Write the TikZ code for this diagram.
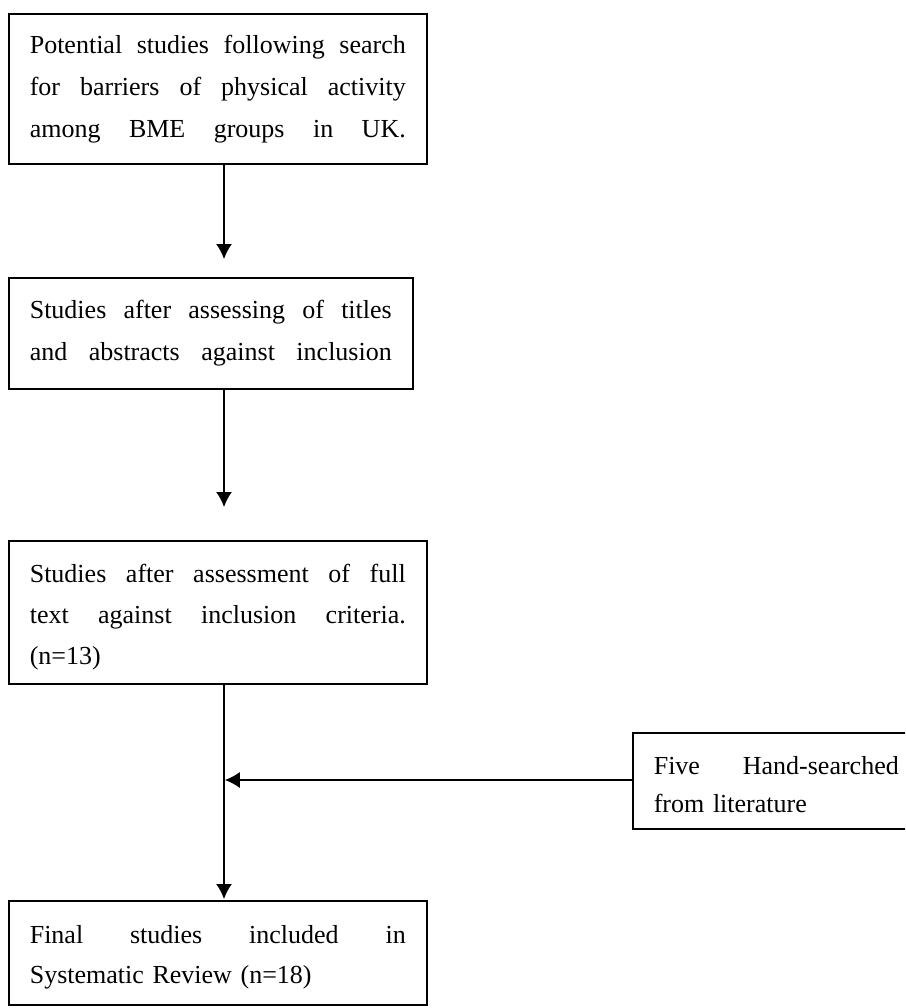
\documentclass[tikz,border=0pt]{standalone}
\usepackage{fontspec}
\setmainfont{Liberation Serif}
\usetikzlibrary{arrows.meta}
\newcommand{\jl}[2]{\leavevmode\hbox to #1{#2}}
\newcommand{\gap}{\hspace{0pt plus 1fill}}
\begin{document}
\begin{tikzpicture}[x=1pt,y=-1pt,
  flowbox/.style={draw, line width=1.6pt, anchor=north west, inner xsep=21pt, inner ysep=0pt,
    align=left, font=\fontsize{26}{42}\selectfont},
  arr/.style={line width=1.6pt, -{Latex[length=15pt,width=16pt]}}]
\useasboundingbox (0,0) rectangle (905,1008);
\clip (0,0) rectangle (905,1008);
\fill[white] (0,0) rectangle (905,1008);
\coordinate (sx) at (224,0);
\node[flowbox, text width=376pt, minimum height=150pt] (b1) at (8,13)
  {\jl{376pt}{Potential\gap studies\gap following\gap search}\\
   \jl{376pt}{for\gap barriers\gap of\gap physical\gap activity}\\
   \jl{376pt}{among\gap BME\gap groups\gap in\gap UK.}};
\node[flowbox, text width=362pt, minimum height=111pt] (b2) at (8,277)
  {\jl{362pt}{Studies\gap after\gap assessing\gap of\gap titles}\\
   \jl{362pt}{and\gap abstracts\gap against\gap inclusion}};
\node[flowbox, text width=376pt, minimum height=143pt, font=\fontsize{26}{41}\selectfont] (b3) at (8,540)
  {\jl{376pt}{\rule{0pt}{28pt}Studies\gap after\gap assessment\gap of\gap full}\\
   \jl{376pt}{text\gap against\gap inclusion\gap criteria.}\\ (n=13)};
\node[flowbox, text width=376pt, minimum height=104pt, font=\fontsize{26}{40}\selectfont] (b4) at (8,900)
  {\jl{376pt}{\rule{0pt}{26pt}Final\gap studies\gap included\gap in}\\ Systematic Review (n=18)};
\node[flowbox, text width=245pt, minimum height=96pt, font=\fontsize{26}{38}\selectfont] (side) at (632,732)
  {\jl{245pt}{\rule{0pt}{26pt}Five\gap Hand-searched}\\ from literature};
\coordinate (m) at (224,780);
\draw[arr, shorten >=18pt] (b1.south -| sx) -- (b2.north -| sx);
\draw[arr, shorten >=33pt] (b2.south -| sx) -- (b3.north -| sx);
\draw[arr, shorten >=1pt] (b3.south -| sx) -- (b4.north -| sx);
\draw[arr, shorten >=0.8pt] (side.west |- m) -- (m);
\end{tikzpicture}
\end{document}
